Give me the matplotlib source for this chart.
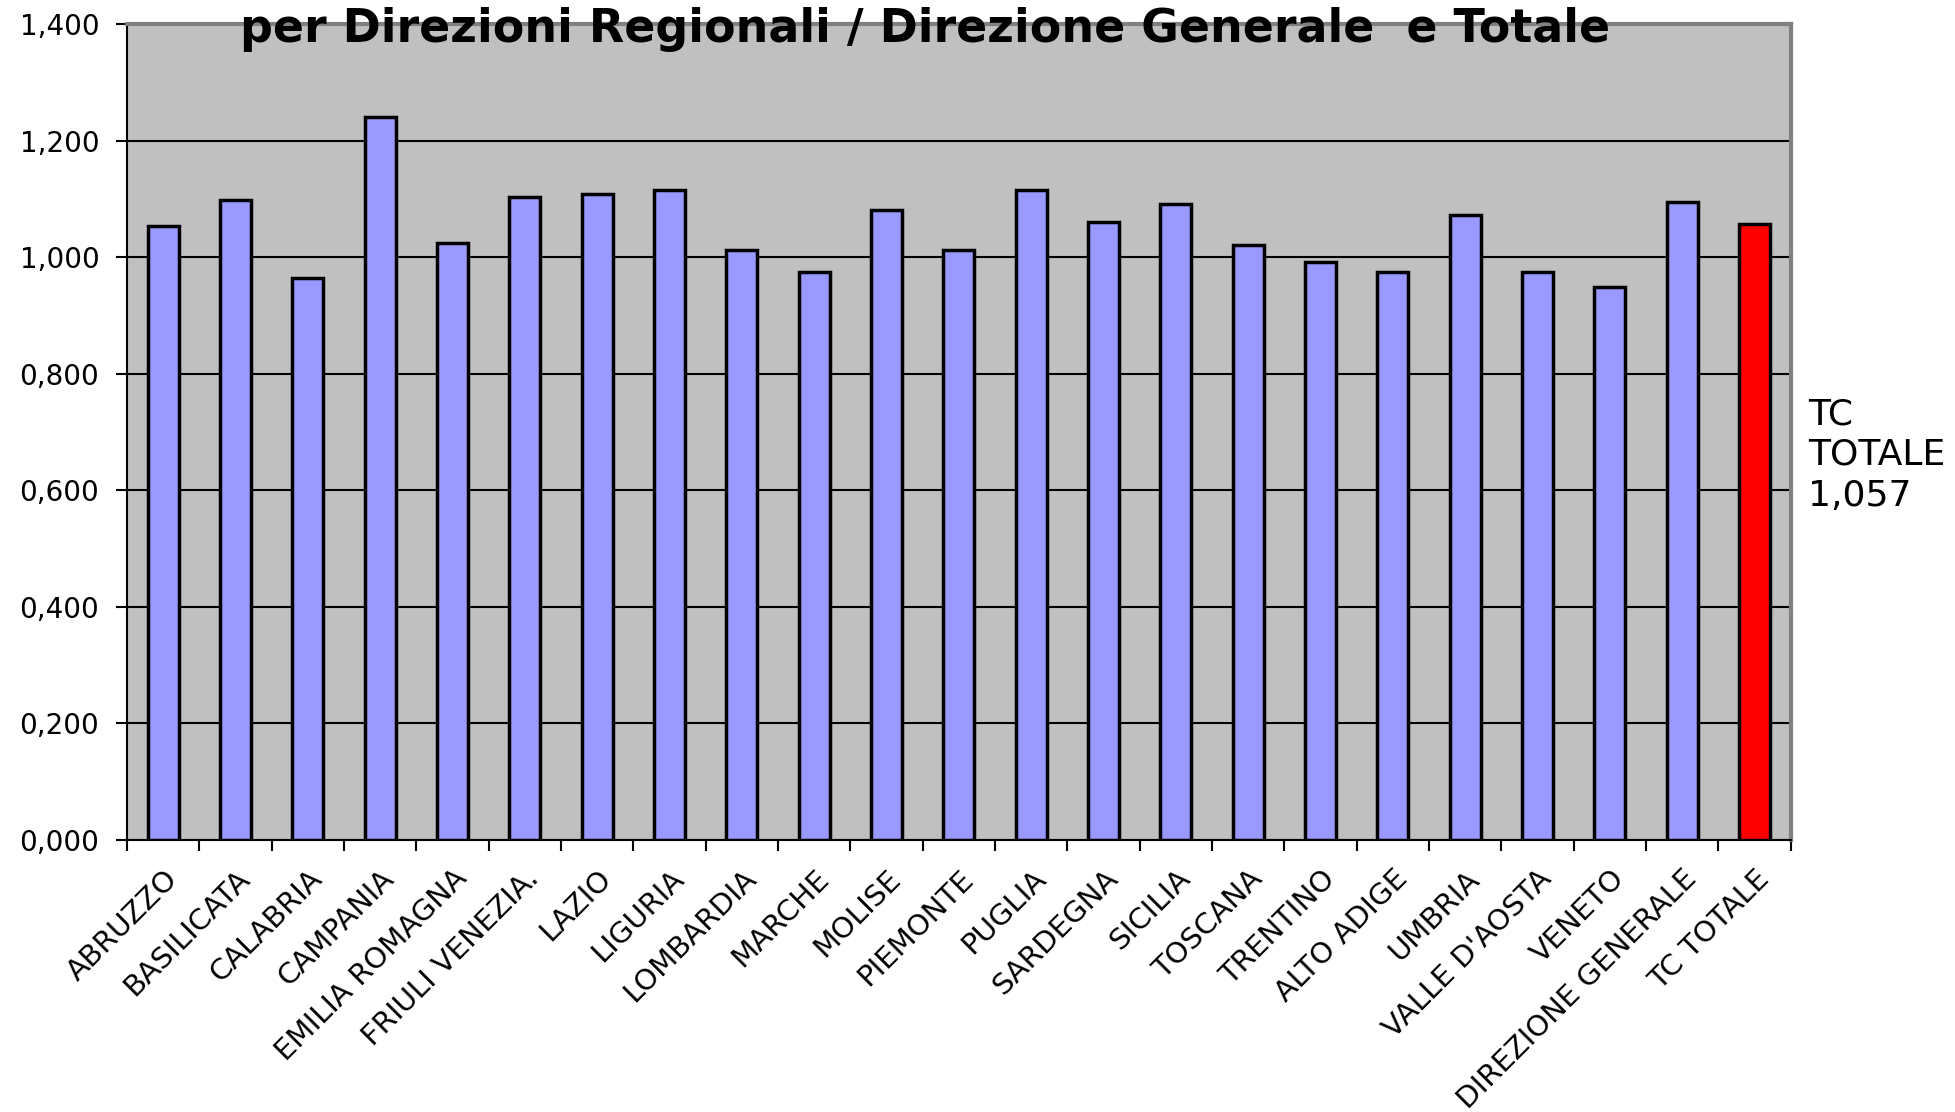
import matplotlib
matplotlib.use("Agg")
import matplotlib.pyplot as plt
from matplotlib.ticker import FuncFormatter, FixedLocator
import numpy as np

# dati
regioni = ["ABRUZZO", "BASILICATA", "CALABRIA", "CAMPANIA", "EMILIA ROMAGNA",
           "FRIULI VENEZIA.", "LAZIO", "LIGURIA", "LOMBARDIA", "MARCHE", "MOLISE",
           "PIEMONTE", "PUGLIA", "SARDEGNA", "SICILIA", "TOSCANA", "TRENTINO",
           "ALTO ADIGE", "UMBRIA", "VALLE D'AOSTA", "VENETO", "DIREZIONE GENERALE",
           "TC TOTALE"]
valori = [1.054, 1.099, 0.964, 1.241, 1.024, 1.103, 1.108, 1.116, 1.013, 0.975,
          1.082, 1.013, 1.116, 1.061, 1.091, 1.022, 0.992, 0.975, 1.073, 0.975,
          0.949, 1.095, 1.057]
titolo = "per Direzioni Regionali / Direzione Generale  e Totale"
etichetta_totale = "TC\nTOTALE\n1,057"

colori = ["#9999FF"] * (len(regioni) - 1) + ["#FF0000"]

fig = plt.figure(figsize=(19.55, 11.12), dpi=100)
ax = fig.add_axes([0.065, 0.245, 0.851, 0.733])
ax.set_facecolor("#C0C0C0")

x = np.arange(len(regioni))
ax.bar(x, valori, width=0.43, color=colori, edgecolor="black", linewidth=2.5, zorder=3)

ax.set_xlim(-0.5, len(regioni) - 0.5)
ax.set_ylim(0, 1.4)
ax.set_yticks(np.arange(0, 1.41, 0.2))
ax.yaxis.set_major_formatter(FuncFormatter(lambda v, p: f"{v:.3f}".replace(".", ",")))
ax.grid(axis="y", color="black", linewidth=1.5, zorder=1)

# tick tra le categorie
ax.xaxis.set_major_locator(FixedLocator(np.arange(-0.5, len(regioni), 1)))
ax.xaxis.set_minor_locator(FixedLocator(x))
ax.set_xticklabels([])
ax.set_xticklabels(regioni, minor=True, rotation=45, ha="right", va="top",
                   rotation_mode="anchor", fontsize=21)
ax.tick_params(axis="x", which="minor", length=0, pad=18)
ax.tick_params(axis="x", which="major", length=8, width=1.5, direction="out")
ax.tick_params(axis="y", length=8, width=1.5, labelsize=20, pad=12)

for s in ["left", "bottom"]:
    ax.spines[s].set_color("black")
    ax.spines[s].set_linewidth(1.5)
for s in ["top", "right"]:
    ax.spines[s].set_color("#808080")
    ax.spines[s].set_linewidth(3)

fig.text(0.473, 0.994, titolo, ha="center", va="top", fontsize=33, fontweight="bold",
         zorder=5)
fig.text(0.925, 0.591, etichetta_totale, ha="left", va="center", fontsize=26,
         linespacing=1.25)

fig.savefig("out.png", dpi=100)
